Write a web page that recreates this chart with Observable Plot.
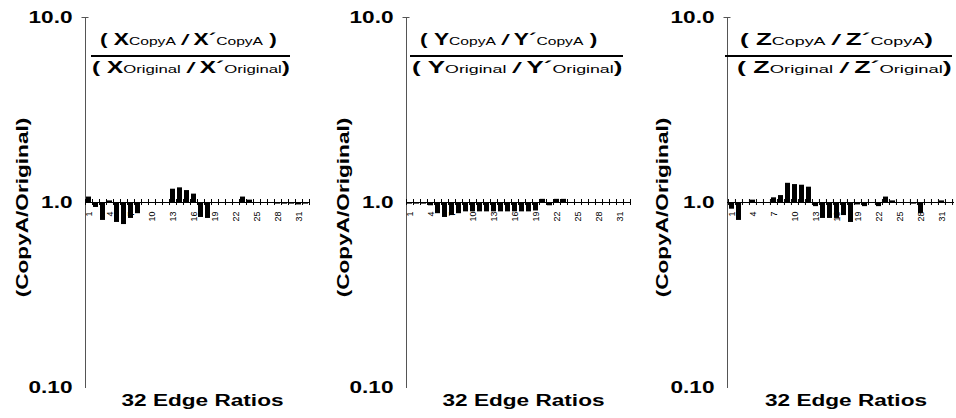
<!DOCTYPE html>
<html><head><meta charset="utf-8">
<script src="https://cdn.jsdelivr.net/npm/d3@7"></script>
<script src="https://cdn.jsdelivr.net/npm/@observablehq/plot@0.6"></script>
<style>
body{margin:0;background:#fff;}
#row{display:flex;width:956px;height:418px;overflow:hidden;}
#row > div{flex:none;}
</style></head><body><div id="row"></div>
<script>
// ---- data ----
const edges = d3.range(1, 33);
const xTickLabels = [1, 4, 7, 10, 13, 16, 19, 22, 25, 28, 31];
const yTicks = [0.1, 1, 10];
const yTickText = ["0.10", "1.0", "10.0"];
const ratiosX = [1.07,0.94,0.80,1.02,0.78,0.76,0.82,0.87,1.00,1.00,0.99,1.00,1.18,1.20,1.16,1.11,0.83,0.82,0.99,1.00,1.00,1.00,1.07,1.03,1.00,1.00,1.00,0.98,0.98,0.98,0.97,0.98];
const ratiosY = [0.98,0.98,0.98,0.96,0.87,0.83,0.85,0.87,0.89,0.89,0.89,0.89,0.89,0.89,0.89,0.89,0.89,0.89,0.90,1.04,0.96,1.04,1.04,1.00,1.00,1.00,1.00,1.00,1.00,1.00,1.00,1.00];
const ratiosZ = [0.92,0.80,1.00,1.03,1.00,1.00,1.06,1.09,1.27,1.25,1.24,1.21,0.95,0.82,0.82,0.82,0.85,0.78,0.97,0.95,1.00,0.95,1.07,1.02,1.00,1.00,0.98,0.87,1.00,1.00,1.02,1.00];
const letters = ["X", "Y", "Z"];
const subTop = "CopyA";
const subBottom = "Original";
const xAxisTitle = "32 Edge Ratios";
const yAxisTitle = "(CopyA/Original)";

// ---- layout / style ----
const FONT = "'Liberation Sans', Arial, Helvetica, sans-serif";
const STRETCH = 1.33;
const layout = [
  {width: 321, ml: 85, mr: 12, numClose: " )", num: {x: 100, w: 177}, den: {x: 92, w: 198}, bar: [91, 290]},
  {width: 319, ml: 85, mr: 10, numClose: " )", num: {x: 99, w: 177}, den: {x: 91, w: 210}, bar: [89, 302]},
  {width: 316, ml: 87, mr: 2, numClose: ")", num: {x: 100, w: 193}, den: {x: 97, w: 215}, bar: [85, 312]}
];

function halfStep(L) { return (L.width - L.ml - L.mr) / edges.length / 2; }

function panel(values, L) {
  const data = edges.map((e, i) => ({edge: e, ratio: values[i]}));
  const h = halfStep(L);
  return Plot.plot({
    width: L.width, height: 418,
    marginTop: 17, marginBottom: 31, marginLeft: L.ml, marginRight: L.mr,
    style: {fontFamily: FONT, background: "white", overflow: "visible", color: "black"},
    x: {type: "band", domain: edges, paddingInner: 0.28, paddingOuter: 0.14, axis: null},
    y: {type: "log", domain: [0.1, 10], axis: null},
    marks: [
      Plot.frame({anchor: "left", stroke: "#555"}),
      Plot.axisY([10], {tickSize: 7, dx: 3.5, tickFormat: () => "", label: null, stroke: "#555"}),
      Plot.barY(data, {x: "edge", y1: 1, y2: "ratio", fill: "black"}),
      Plot.ruleY([1], {stroke: "black"}),
      Plot.ruleX(edges, {x: d => d, y1: 0.963, y2: 1.038, dx: -h, stroke: "black"}),
      Plot.ruleX([edges[edges.length - 1]], {x: d => d, y1: 0.963, y2: 1.038, dx: h, stroke: "black"}),
      Plot.text(xTickLabels, {x: d => d, y: 1, text: d => String(d), rotate: -90, textAnchor: "end", dy: 9, fontSize: 9, fill: "black"}),
      Plot.text(yTicks, {y: d => d, frameAnchor: "left", dx: -13, textAnchor: "end", lineAnchor: "middle", text: (d, i) => yTickText[i], fontSize: 17, fontWeight: "bold", fill: "black"}),
      Plot.text([yAxisTitle], {frameAnchor: "left", dx: 22 - L.ml, dy: 5, rotate: -90, textAnchor: "middle", lineAnchor: "middle", fontSize: 17, fontWeight: "bold", fill: "black"}),
      Plot.text([xAxisTitle], {frameAnchor: "bottom", dy: 13, dx: 5, textAnchor: "middle", lineAnchor: "middle", fontSize: 17, fontWeight: "bold", fill: "black"})
    ]
  });
}

function addTitle(svg, letter, L) {
  const g = d3.select(svg).append("g").attr("font-family", FONT).attr("fill", "black");
  const lines = [
    {y: 44.5, pos: L.num, parts: [["( ", "b"], [letter, "b"], [subTop, "s"], [" / ", "i"], [letter + "´", "b"], [subTop, "s"], [L.numClose, "b"]]},
    {y: 73.3, pos: L.den, parts: [["( ", "b"], [letter, "b"], [subBottom, "s"], [" / ", "i"], [letter + "´", "b"], [subBottom, "s"], [")", "b"]]}
  ];
  for (const ln of lines) {
    const t = g.append("text").attr("x", 0).attr("y", 0).attr("text-anchor", "start");
    for (const [s, k] of ln.parts) {
      const ts = t.append("tspan").text(s);
      if (k === "b") ts.attr("font-size", 16).attr("font-weight", "bold");
      else if (k === "i") ts.attr("font-size", 15).attr("font-weight", "bold").attr("font-style", "italic");
      else ts.attr("font-size", 11);
    }
    const len = t.node().getComputedTextLength();
    const sx = len > 0 ? ln.pos.w / len : 1;
    t.attr("transform", `translate(${ln.pos.x},${ln.y}) scale(${sx},1)`);
  }
  g.append("line").attr("x1", L.bar[0]).attr("x2", L.bar[1]).attr("y1", 56).attr("y2", 56)
    .attr("stroke", "black").attr("stroke-width", 2);
}

// widen big bold glyphs along their writing direction, keeping each anchor fixed
function stretchTexts(svg) {
  d3.select(svg).selectAll("text").each(function () {
    const fs = parseFloat(getComputedStyle(this).fontSize);
    if (fs < 16) return;
    const T = this.getAttribute("transform") || "";
    const x = parseFloat(this.getAttribute("x")) || 0;
    this.setAttribute("transform", `${T} translate(${x},0) scale(${STRETCH},1) translate(${-x},0)`);
  });
}

const row = document.getElementById("row");
[ratiosX, ratiosY, ratiosZ].forEach((vals, i) => {
  const L = layout[i];
  const svg = panel(vals, L);
  const div = document.createElement("div");
  div.style.width = L.width + "px";
  div.appendChild(svg);
  row.appendChild(div);
  stretchTexts(svg);
  addTitle(svg, letters[i], L);
});
</script>
</body></html>
